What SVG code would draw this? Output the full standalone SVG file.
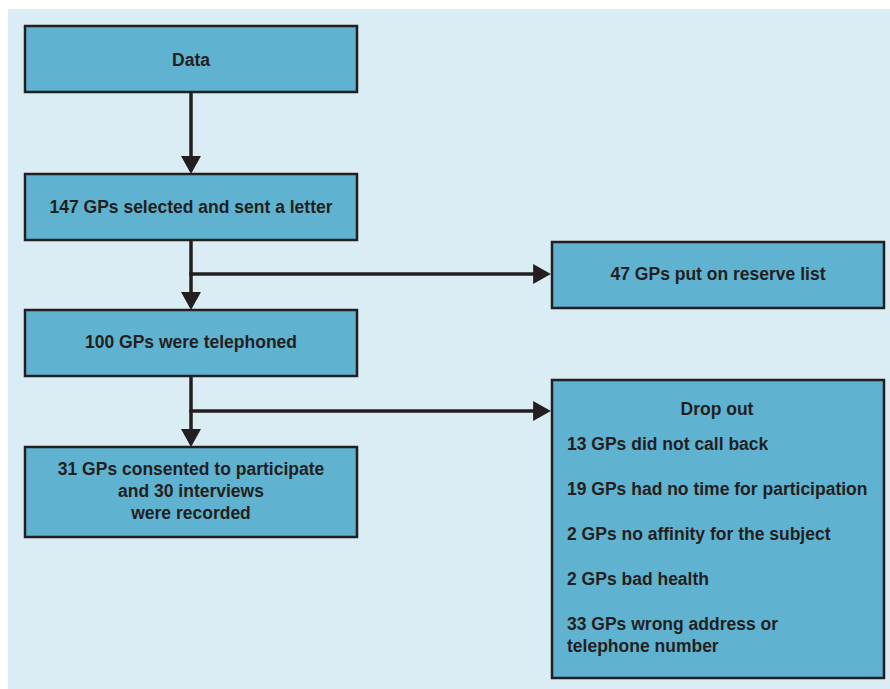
<svg xmlns="http://www.w3.org/2000/svg" width="890" height="689" viewBox="0 0 890 689">
<style>
.box{fill:#5fb2d0;stroke:#231f20;stroke-width:2.5}
.t{font-family:"Liberation Sans",Arial,sans-serif;font-weight:bold;font-size:17.5px;fill:#231f20}
.c{text-anchor:middle}
.ln{stroke:#231f20;stroke-width:3.5;fill:none}
</style>
<defs>
<marker id="ah" markerUnits="userSpaceOnUse" markerWidth="18" markerHeight="20" refX="8" refY="9" orient="auto" viewBox="0 0 16 18">
<path d="M0,0 L16,9 L0,18 z" fill="#231f20"/>
</marker>
</defs>
<rect x="0" y="0" width="890" height="689" fill="#ffffff"/>
<rect x="8" y="9" width="882" height="680" fill="#dbedf4"/>
<g id="connectors">
<line class="ln" x1="191" y1="93" x2="191" y2="165" marker-end="url(#ah)"/>
<line class="ln" x1="191" y1="241" x2="191" y2="301" marker-end="url(#ah)"/>
<line class="ln" x1="189.25" y1="274" x2="542" y2="274" marker-end="url(#ah)"/>
<line class="ln" x1="191" y1="377" x2="191" y2="438" marker-end="url(#ah)"/>
<line class="ln" x1="189.25" y1="411" x2="542" y2="411" marker-end="url(#ah)"/>
</g>
<g id="data">
<rect class="box" x="25" y="26" width="332" height="66"/>
<text class="t c" x="191" y="66">Data</text>
</g>
<g id="selected">
<rect class="box" x="25" y="174" width="332" height="66"/>
<text class="t c" x="191" y="213">147 GPs selected and sent a letter</text>
</g>
<g id="reserve">
<rect class="box" x="552" y="242" width="332" height="66"/>
<text class="t c" x="718" y="280">47 GPs put on reserve list</text>
</g>
<g id="telephoned">
<rect class="box" x="25" y="310" width="332" height="66"/>
<text class="t c" x="191" y="348">100 GPs were telephoned</text>
</g>
<g id="consented">
<rect class="box" x="25" y="447" width="332" height="90"/>
<text class="t c" x="191" y="475">31 GPs consented to participate</text>
<text class="t c" x="191" y="497">and 30 interviews</text>
<text class="t c" x="191" y="519">were recorded</text>
</g>
<g id="dropout">
<rect class="box" x="552" y="380" width="332" height="298"/>
<text class="t c" x="717" y="415">Drop out</text>
<text class="t" x="567" y="450">13 GPs did not call back</text>
<text class="t" x="567" y="495">19 GPs had no time for participation</text>
<text class="t" x="567" y="540">2 GPs no affinity for the subject</text>
<text class="t" x="567" y="585">2 GPs bad health</text>
<text class="t" x="567" y="630">33 GPs wrong address or</text>
<text class="t" x="567" y="652">telephone number</text>
</g>
</svg>
